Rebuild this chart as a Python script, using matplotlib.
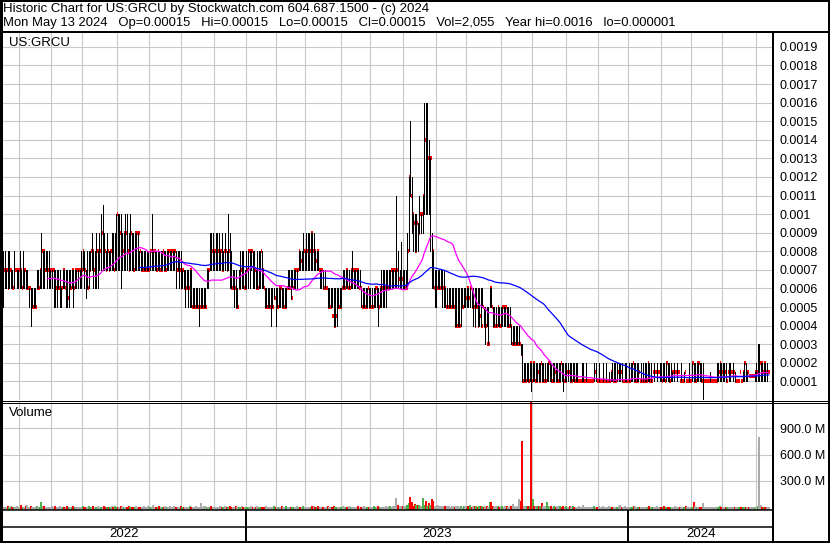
import matplotlib
matplotlib.use("Agg")
import matplotlib.pyplot as plt
from matplotlib.lines import Line2D
import numpy as np
import pandas as pd

plt.rcParams['font.family'] = ['Liberation Sans', 'DejaVu Sans']

# trading days shown on the chart (NYSE holidays removed)
holidays = ["2022-05-30", "2022-06-20", "2022-07-04", "2022-09-05", "2022-11-24",
            "2022-12-26", "2023-01-02", "2023-01-16", "2023-02-20", "2023-04-07",
            "2023-05-29", "2023-06-19", "2023-07-04", "2023-09-04", "2023-11-23",
            "2023-12-25", "2024-01-01", "2024-01-15", "2024-02-19", "2024-03-29"]
dates = pd.bdate_range("2022-05-16", "2024-05-13")
dates = dates[~dates.isin(pd.to_datetime(holidays))]

# daily high / low / close in units of 0.0001, ten days per row
high_ticks = """
8 8 7 8 8 7 7 8 7 7
7 8 7 8 7 7 7 6 6 6
6 6 7 7 7 9 8 8 8 8
8 7 7 7 7 7 7 7 6 7
7 7 7 7 7 7 7 7 7 7
7 8 8 8 7 8 8 8 9 8
8 9 8 9 10 10.5 9 8 9 8
8 9 9 9 10 10 10 10 9 9
10 10 9 10 9 9 9 9 9 8
8 8 8 8 8 8 8 10 8 8
8 8 8 8 8 8 8 8 8 8
8 8 8 8 8 8 8 7 7 7
7 7 7 7 6 6 6 6 6 6
6 6 6 7 7 9 9 9 8 9
9 9 8 9 8 9 8 10 9 8
7 7 7 6 7 8 8 8 7 8
8 8 8 8 8 7 8 8 8 8
7 6 6 6 6 6 6 6 6 6
6 6 6 6 6 6 7 7 7 7
7 7 7 8 8 8 9 8 9 9
9 9 9 9 8 8 8 7 7 7
7 6 6 6 6 6 6 6 6 6
6 6 7 7 7 7 7 7 8 7
7 7 7 7 6 6 6 6 6 6
6 6 6 6 6 6 6 7 7 7
7 7 7 7 7 7 7 11 8 7
8.5 7 7 7 9 12 15 12 10 10
10 9.5 11 10 11 16 16 16 14 13
9 8 7 7 7 7 7 7 7 6
6 6 6 6 6 6 6 6 6 6
6 6 6 6 6 6 6 6 6 6
6 6 6 6 5 5 5 5 6 6
5 5 5 5 5 5 5 5 5 5
5 5 4 4 4 4 4 4 3 3
2 2 2 2 2 2 2 2 2 2
2 2 2 2 2 2 2 2 2 2
2 2 2 2 2 2 2 2 2 2
2 2 2 2 2 2 1 1 2 2
1 2 1 1 1 1 2 2 1 2
1 1 2 1 2 1 1.5 1.5 2 2
2 2 2 2 2 1 2 2 1 2
2 2 2 2 2 2 1 2 2 2
2 2 2 2 1.5 2 1.5 2 1.5 2
2 2 2 2 2 2 2 1.5 2 1.5
2 1.5 1 2 1 1.5 1 1 2 1
2 2 2 2 2 2 2 2 1 1
1 1 1.5 1 1 1 2 2 2 2
2 2 2 1.5 2 2 1.5 2 1.5 1
1 1.5 1 1.5 2 2 1.5 1.3 1.3 1.3
1.3 1.5 2 3 3 2 2 2 2 2
1.5
"""

low_ticks = """
5 6 6 6 6 6 6 6 7 6
6 6 6 6 6 6 6 5 4 5
5 5 6 6 6 6 6 6 7 6
6 6 6 5 5 5 6 5 5 6
6 5 5 5 6 6 5 6 6 6
6 6 7 6 5.5 6 6 7 7 6
6 6 6 7 7 7 7 7 7 7
7 7 7 7 7 7 7 6 7 7
7 7 7 7 7 7 7 7 7 7
7 7 7 7 7 7 7 7 7 7
7 7 7 7 7 7 7 7 7 7
7 7 7 6 7 6 6 6 6 5
6 5 5 5 5 5 5 5 4 5
5 5 5 6 6 7 7 7 7 7
7 7 7 7 7 7 7 7 6 6
6 5 5 5 6 6 6 6 6 6
6 6 7 6 6 6 6 6 6 6
6 5 5 5 5 4 5 5.5 4 5
5 5 5 5 5 5 6 6 5.5 6
6 6 6 7 7 7 7 7 7 7
7 7 7 7 7 7 7 6 6 6
6 6 5 5 5 5 4 4 4 5
5 5 6 6 6 6 6 6 6 6
6 6 6 6 5 5 5 5 5 5
5 5 5 5 5 4 5 5 5 5
5 6 6 6 6 6 6 6 6 6
6 6 6 6 6 8 11 9 8 8
8 8 9 9 9 10 10 10 10 8
6 6 5 5 6 6 6 5 5 5
5 5 5 5 5 4 4 4 4 4
5 5 5 5 5 5 5 4 4 5
4 4 4 5 4 3 4 3 5 5
4 4 4 4 4 4 4 4 4 4
4 4 3 3 3 3 3 3 2.5 1
1 1 1 1 1 0.5 1 1 1 1
1 1 1 1 1 1 1 1 1 1
1 1 1 1 1 1 0.5 1 1 1
1 1 1 1 1 1 1 1 1 1
1 1 1 1 1 1 1 1 1 1
1 1 1 1 1 1 1 1 1 1
1 1 1 1 1 1 1 1 1 1
1 1 1 1 1 1 1 1 1 1
1 1 1 1 1.5 1 1.5 1 1.5 1
1 1 1 1 1 1 1 1 1 1.5
1 1.5 1 1 1 1 1 1 1 1
1 1 1 1 1 1 1 0.01 1 1
1 1 1 1 1 1 1 1 1 1
1 1 1 1.5 1 1 1.5 1 1 1
1 1.5 1 1 1 1 1 1.3 1.3 1.3
1.3 1 1 1 1 1 1 1 1 1
1.5
"""

close_ticks = """
7 7 7 6 7 7 6 7 7 7
7 7 6 7 7 6 6 6 5 5
5 5 6 6 7 8 8 7 7 7
7 7 7 7 6 6 6 6 6 7
6 6 5.5 6 6 7 6 7 7 7
7 7 8 7 6 6 7 8 8 7
7 8 8 8 9 9 8 7 8 7
8 8 7 8 10 9 9 8 8 9
9 8 7 9 8 7 9 9 9 8
7 7 7 7 7 7 8 8 8 8
7 8 7 7 8 7 7 8 8 8
8 8 8 7 7 7 6 7 6 6
6 6 7 5 5 5 5 5 5 5
5 5 5 7 7 8.5 8 8 8 8
8 8 8 7 8 8 7 8 7 6
6 6 5 5 6 7 7 6 6 7
8 8 8 7 7 6 6 7 8 7
6 5 5 5 5 5 5 5.5 5 5
6 6 5 5 5 6 6 6 5.5 6
7 7 7 8 7.5 7.5 8 8 8 8
8 9 8 8 7.5 8 7 7 7 6
6 6 5 5 5 4.5 4 4.5 5 5
5 6 6 6 7 6 6 7 7 7
7 7 6 6 5 5 5 5 6 5
5 5 5.5 6 6 5 6 6 6 6
6 6 6 7 7 7 7 7 6.5 6.5
6.5 6 6 6 8 12 11 10 9.5 8
9.5 9 10 10 11 14 12 13 12 13
8 6 6 6 6 6 6 6 6 5
5 5 5 5 5 4 4 4 4 5
5 5.5 5.5 6 5.5 6 5 5 4 5
4 4.5 4 5 4 4 3 3 6 5
4 4 4 5 4 4 5 5 5 4
4 4 3 3 3 3 3 3 2.5 1
1 1 1.5 1 2 1 2 1 1 1.5
1 2 1 1 1 1.5 2 2 1 1
1.5 1 1 1 2 1.5 1 1 1.5 1.5
1 1 1.5 1 1 1 1 1 1 1
1 1 1 1 1 1 1.5 1.5 1 1
1 1 1 1 1 1 1 1.5 1 1
1 1.5 1.5 1.5 1 1 1 1 1 1
1.5 2 1 1 1 1.5 1 1 1 1
1 2 1 1 1.5 1.5 1.5 1.5 1.5 1.5
1 1.5 1 2 1.5 1 1.5 1.5 1.5 1.5
1.5 1.5 1 1 1 1.5 1 1 1 1
2 1 1 2 2 1.5 1 1 1 1
1 1 1 1 1 1 1 1.5 2 1.5
1.5 1.5 1 1.5 1.5 1.5 1.5 1.5 1 1
1 1.5 1 1.5 2 1.5 1.5 1.3 1.3 1.3
1.3 1.5 1.5 2 2 2 1.5 2 1.5 1.5
1.5
"""

# daily volume in millions of shares
volume_m = """
8 6 5 10 6 20 8 5 6 10
6 8 25 6 8 10 30 8 20 6
8 6 10 6 8 55 10 20 6 8
6 8 10 8 20 6 8 10 6 8
8 6 10 8 6 8 10 6 8 6
6 8 10 6 8 6 10 8 6 20
8 6 10 8 6 8 10 6 8 6
6 20 8 10 6 8 6 10 8 6
8 6 10 8 6 8 6 10 8 6
6 8 10 6 8 10 6 8 30 8
8 6 10 8 6 8 10 6 8 10
6 8 10 6 8 6 10 8 6 8
8 6 10 8 6 8 10 6 8 45
8 20 10 6 8 6 10 8 6 8
6 8 10 6 8 10 6 8 12 6
8 6 10 8 6 8 10 6 8 6
6 8 10 6 8 6 10 8 6 8
8 6 10 8 6 8 6 10 8 6
6 8 10 6 8 10 6 8 6 8
8 6 10 8 6 8 10 6 8 6
6 8 10 20 8 6 10 8 6 8
8 6 10 8 6 8 12 6 8 6
6 8 10 6 8 6 10 8 6 8
8 6 10 8 6 8 10 6 8 6
6 8 10 6 8 10 6 8 6 8
10 8 12 10 8 10 12 110 25 15
10 20 15 12 30 50 115 60 20 40
30 30 30 15 110 25 70 20 45 30
90 70 20 15 25 10 10 15 20 10
12 10 8 10 20 8 10 12 8 10
8 10 12 8 10 25 8 10 12 10
8 10 12 10 8 15 10 8 60 55
10 8 10 12 8 10 10 8 15 10
8 12 10 40 10 8 12 100 75 750
15 12 20 15 20 1300 90 15 12 20
12 10 53 15 10 55 15 12 10 8
10 8 12 10 10 8 12 8 10 8
20 8 10 8 6 8 10 6 8 25
6 8 6 8 6 8 10 6 8 10
6 8 10 6 8 6 10 8 6 8
8 6 10 22 8 6 10 8 6 8
6 8 10 10 8 6 8 6 8 6
8 6 10 8 6 8 6 10 8 6
6 8 10 6 8 6 8 6 8 10
6 8 6 8 6 8 10 6 8 6
8 65 10 8 6 8 6 45 8 6
6 8 6 8 6 8 6 8 10 6
8 6 8 6 8 6 8 6 8 6
6 8 6 8 6 8 6 8 6 8
8 6 8 10 800 25 8 6 8 6
0.002
"""

TICK = 0.0001
high = np.array(high_ticks.split(), dtype=float) * TICK
low = np.array(low_ticks.split(), dtype=float) * TICK
close = np.array(close_ticks.split(), dtype=float) * TICK
volume = np.array(volume_m.split(), dtype=float) * 1e6
n = len(dates)
assert len(high) == len(low) == len(close) == len(volume) == n, \
    (len(high), len(low), len(close), len(volume), n)

x = np.arange(n)
ma_fast = pd.Series(close).rolling(30).mean()
ma_slow = pd.Series(close).rolling(90).mean()

# volume bar colour from close-to-close change
change = np.diff(close, prepend=close[0])
vol_colors = ['#4cb04c' if c > 0 else '#ff0000' if c < 0 else '#aaaaaa' for c in change]

# month grid and year separators (first trading day of each)
ym = dates.year * 12 + dates.month
month_pos = x[1:][np.diff(ym) != 0] - 0.5
year_pos = x[1:][np.diff(dates.year) != 0] - 0.5

W, H = 830, 543
fig = plt.figure(figsize=(W / 100, H / 100), dpi=100)


def box(x0, y0, x1, y1):
    return [x0 / W, 1 - y1 / H, (x1 - x0) / W, (y1 - y0) / H]


def fig_line(x0, y0, x1, y1, px=1):
    fig.add_artist(Line2D([x0 / W, x1 / W], [1 - y0 / H, 1 - y1 / H],
                          transform=fig.transFigure, color='black',
                          lw=px * 0.72, solid_capstyle='butt'))


grid_kw = dict(color='#c8c8c8', linewidth=0.8)
xlim = (-0.65, n + 1.9)
FS = 9.5

# ---- price panel
ax = fig.add_axes(box(2, 32, 773, 400))
ax.set_xlim(*xlim)
ax.set_ylim(0, 0.00198)
ax.set_xticks(month_pos)
ax.set_yticks(np.arange(1, 20) * TICK)
ax.set_yticklabels([f"{v:.4f}".rstrip('0') for v in np.arange(1, 20) * TICK])
ax.yaxis.tick_right()
ax.tick_params(axis='y', length=0, pad=5, labelsize=9)
ax.tick_params(axis='x', length=0, labelbottom=False)
ax.grid(True, **grid_kw)
ax.set_axisbelow(True)
for s in ax.spines.values():
    s.set_visible(False)

# close tick sits just right of each bar, under the following bars
ax.hlines(close, x + 0.2, x + 1.2, color='#ff0000', lw=1.5,
          antialiased=False, zorder=2)
ax.vlines(x, low, high, color='black', lw=0.6, antialiased=False, zorder=3)
ax.plot(x, ma_fast, color='#ff00ff', lw=0.9, zorder=4)
ax.plot(x, ma_slow, color='#0000ff', lw=0.9, zorder=4)
ax.text(7 / 771, 1 - 11 / 368, "US:GRCU", transform=ax.transAxes,
        fontsize=FS, va='center', ha='left')

# ---- volume panel
vol_floor = -25e6
axv = fig.add_axes(box(2, 402, 773, 509.5))
axv.set_xlim(*xlim)
axv.set_ylim(vol_floor, 1.2e9)
axv.set_xticks(month_pos)
axv.set_yticks([300e6, 600e6, 900e6])
axv.set_yticklabels(["300.0 M", "600.0 M", "900.0 M"])
axv.yaxis.tick_right()
axv.tick_params(axis='y', length=0, pad=5, labelsize=9)
axv.tick_params(axis='x', length=0, labelbottom=False)
axv.grid(True, **grid_kw)
axv.set_axisbelow(True)
for s in axv.spines.values():
    s.set_visible(False)
axv.vlines(x, vol_floor, volume, colors=vol_colors, lw=1.4,
           antialiased=False, zorder=3)
axv.text(7 / 771, 1 - 11 / 107.5, "Volume", transform=axv.transAxes,
         fontsize=FS, va='center', ha='left')

# ---- year strip
axy = fig.add_axes(box(2, 510, 773, 541))
axy.set_xlim(*xlim)
axy.set_ylim(0, 31)
axy.axis('off')
axy.vlines(year_pos, 0, 31, color='black', lw=1.4)
edges = np.concatenate([[xlim[0]], year_pos, [xlim[1]]])
for a, b, yr in zip(edges[:-1], edges[1:], [2022, 2023, 2024]):
    axy.text((a + b) / 2, 7, str(yr), ha='center', va='center', fontsize=FS)

# ---- frame lines
fig_line(0, 0.5, W, 0.5, 2)
fig_line(1, 0, 1, H, 3)
fig_line(W - 1, 0, W - 1, H, 2)
fig_line(0, H - 1, W, H - 1, 3)
fig_line(0, 31.5, W, 31.5, 2)
fig_line(773, 32, 773, H, 2)
fig_line(0, 400.5, W, 400.5, 1)
fig_line(0, 402.5, W, 402.5, 1)
fig_line(0, 509.8, 773, 509.8, 1.5)
fig_line(0, 527.3, 773, 527.3, 1.5)

fig.text(3 / W, 1 - 9 / H,
         "Historic Chart for US:GRCU by Stockwatch.com 604.687.1500 - (c) 2024",
         fontsize=FS, va='center', ha='left')
fig.text(3 / W, 1 - 23 / H,
         "Mon May 13 2024   Op=0.00015   Hi=0.00015   Lo=0.00015   Cl=0.00015   "
         "Vol=2,055   Year hi=0.0016   lo=0.000001",
         fontsize=9.35, va='center', ha='left')

fig.savefig("out.png", dpi=100, facecolor='white')
